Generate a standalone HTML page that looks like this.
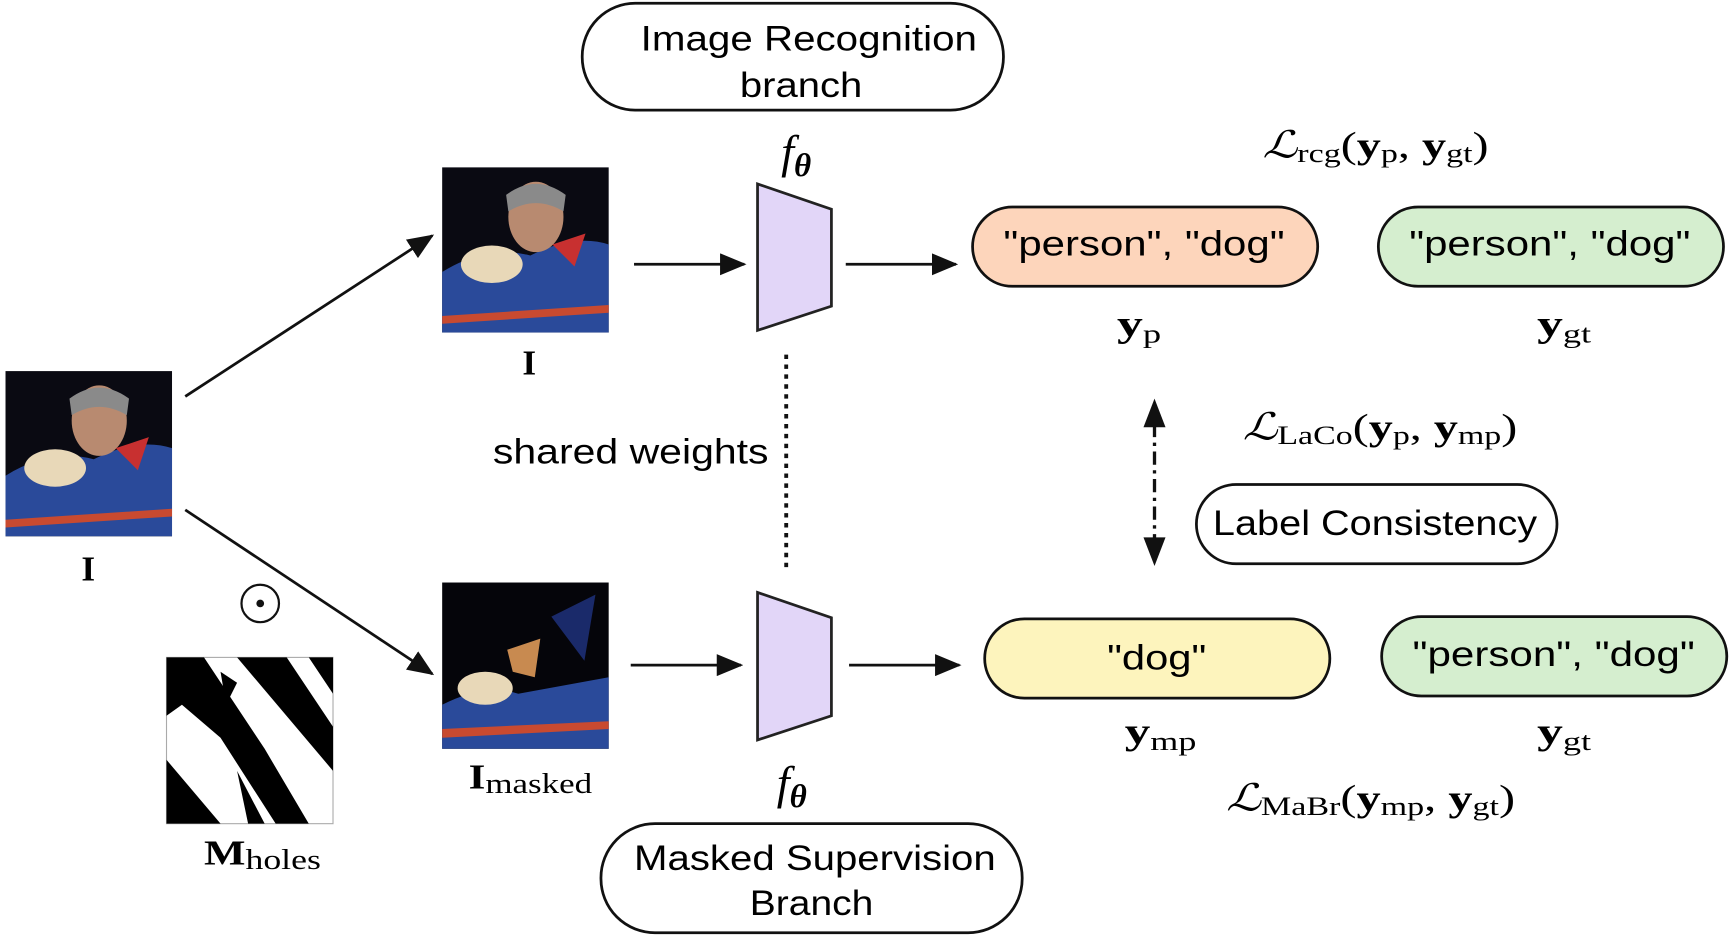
<!DOCTYPE html>
<html><head><meta charset="utf-8"><style>
html,body{margin:0;padding:0;background:#fff;}
svg{display:block;}
.s{font-family:"Liberation Sans",sans-serif;}
.m{font-family:"Liberation Serif",serif;}
</style></head><body>
<svg width="1729" height="936" viewBox="0 0 1568 850" preserveAspectRatio="none" xmlns="http://www.w3.org/2000/svg">
<defs>
<marker id="ah3" viewBox="0 0 24 20" refX="22" refY="10" markerWidth="24" markerHeight="20" orient="auto" markerUnits="userSpaceOnUse"><path d="M0,0 L24,10 L0,20 z" fill="#111"/></marker>
<g id="photo">
<rect x="0" y="0" width="151" height="150" fill="#0a0a12"/>
<path d="M0,95 Q40,70 80,80 Q120,60 151,70 L151,150 L0,150 z" fill="#2a4a9a"/>
<ellipse cx="85" cy="45" rx="25" ry="32" fill="#b88a70"/>
<path d="M58,25 Q85,5 112,25 L110,40 Q85,25 60,40 z" fill="#8a8a8a"/>
<ellipse cx="45" cy="88" rx="28" ry="17" fill="#e8d8b8"/>
<path d="M0,135 L151,125 L151,132 L0,142 z" fill="#c84a30"/>
<path d="M100,70 L130,60 L120,90 z" fill="#c83030"/>
</g>
</defs>

<rect x="528" y="3" width="382" height="97" rx="48" fill="#fff" stroke="#111" stroke-width="2.5"/>
<text x="581" y="46" class="s" font-size="32" textLength="305" lengthAdjust="spacingAndGlyphs">Image Recognition</text>
<text x="671" y="88" class="s" font-size="32" textLength="111" lengthAdjust="spacingAndGlyphs">branch</text>

<rect x="545" y="748" width="382" height="99" rx="49" fill="#fff" stroke="#111" stroke-width="2.5"/>
<text x="575" y="790" class="s" font-size="32" textLength="328" lengthAdjust="spacingAndGlyphs">Masked Supervision</text>
<text x="680" y="831" class="s" font-size="32" textLength="112" lengthAdjust="spacingAndGlyphs">Branch</text>

<text x="722" y="152" class="m" font-size="42" font-style="italic" text-anchor="middle">f<tspan font-size="30" dy="8" font-weight="bold">θ</tspan></text>
<text x="718" y="725" class="m" font-size="42" font-style="italic" text-anchor="middle">f<tspan font-size="30" dy="8" font-weight="bold">θ</tspan></text>

<polygon points="687,167 754,190 754,278 687,300" fill="#e2d6f8" stroke="#222" stroke-width="2.5"/>
<polygon points="687,538 754,561 754,650 687,672" fill="#e2d6f8" stroke="#222" stroke-width="2.5"/>

<use href="#photo" x="5" y="337"/>
<use href="#photo" x="401" y="152"/>
<g>
<rect x="401" y="529" width="151" height="151" fill="#05050a"/>
<path d="M401,640 Q440,620 470,630 L552,615 L552,680 L401,680 z" fill="#2a4a9a"/>
<ellipse cx="440" cy="625" rx="25" ry="15" fill="#e8d8b8"/>
<path d="M401,662 L552,655 L552,662 L401,670 z" fill="#c84a30"/>
<path d="M460,590 L490,580 L485,615 L465,610 z" fill="#c88a50"/>
<path d="M500,560 L540,540 L530,600 z" fill="#1a2a6a"/>
</g>
<g>
<rect x="151" y="597" width="151" height="151" fill="#fff" stroke="#aaa" stroke-width="1"/>
<path d="M151,597 L185,597 L240,680 L280,748 L250,748 L200,670 L165,640 L151,650 z" fill="#000"/>
<path d="M215,597 L260,597 L302,660 L302,700 z" fill="#000"/>
<path d="M151,690 L200,748 L151,748 z" fill="#000"/>
<path d="M215,700 L240,748 L225,748 z" fill="#000"/>
<path d="M280,597 L302,597 L302,630 z" fill="#000"/>
<path d="M200,610 L215,620 L205,640 z" fill="#000"/>
</g>

<text x="480" y="340" class="m" font-size="32" font-weight="bold" text-anchor="middle">I</text>
<text x="80" y="527" class="m" font-size="32" font-weight="bold" text-anchor="middle">I</text>
<circle cx="236" cy="548" r="17" fill="none" stroke="#111" stroke-width="2"/>
<circle cx="236" cy="548" r="3.5" fill="#111"/>
<text x="185" y="785" class="m" font-size="32" font-weight="bold" textLength="106" lengthAdjust="spacingAndGlyphs">M<tspan font-size="26" font-weight="normal" dy="4">holes</tspan></text>
<text x="425" y="716" class="m" font-size="32" font-weight="bold" textLength="112" lengthAdjust="spacingAndGlyphs">I<tspan font-size="26" font-weight="normal" dy="4">masked</tspan></text>

<g stroke="#111" stroke-width="2.5" fill="none">
<line x1="168" y1="360" x2="392" y2="214" marker-end="url(#ah3)"/>
<line x1="168" y1="463" x2="392" y2="612" marker-end="url(#ah3)"/>
<line x1="575" y1="240" x2="675" y2="240" marker-end="url(#ah3)"/>
<line x1="767" y1="240" x2="867" y2="240" marker-end="url(#ah3)"/>
<line x1="572" y1="604" x2="672" y2="604" marker-end="url(#ah3)"/>
<line x1="770" y1="604" x2="870" y2="604" marker-end="url(#ah3)"/>
<line x1="713" y1="322" x2="713" y2="520" stroke-dasharray="4,5" stroke-width="3.5"/>
<line x1="1047" y1="385" x2="1047" y2="492" stroke-dasharray="12,5,3,5" stroke-width="3"/>
</g>
<path d="M1047,362 L1057,388 L1037,388 z" fill="#111"/>
<path d="M1047,514 L1057,488 L1037,488 z" fill="#111"/>

<text x="447" y="421" class="s" font-size="32" textLength="250" lengthAdjust="spacingAndGlyphs">shared weights</text>

<rect x="882" y="188" width="313" height="72" rx="36" fill="#fdd5bb" stroke="#111" stroke-width="2.5"/>
<text x="910" y="232" class="s" font-size="32" textLength="255" lengthAdjust="spacingAndGlyphs">"person", "dog"</text>
<rect x="1250" y="188" width="313" height="72" rx="36" fill="#d5eecf" stroke="#111" stroke-width="2.5"/>
<text x="1278" y="232" class="s" font-size="32" textLength="255" lengthAdjust="spacingAndGlyphs">"person", "dog"</text>
<rect x="893" y="562" width="313" height="72" rx="36" fill="#fdf4bd" stroke="#111" stroke-width="2.5"/>
<text x="1004" y="608" class="s" font-size="32" textLength="90" lengthAdjust="spacingAndGlyphs">"dog"</text>
<rect x="1253" y="560" width="313" height="72" rx="36" fill="#d5eecf" stroke="#111" stroke-width="2.5"/>
<text x="1281" y="605" class="s" font-size="32" textLength="256" lengthAdjust="spacingAndGlyphs">"person", "dog"</text>
<rect x="1085" y="440" width="327" height="72" rx="36" fill="#fff" stroke="#111" stroke-width="2.5"/>
<text x="1100" y="486" class="s" font-size="32" textLength="294" lengthAdjust="spacingAndGlyphs">Label Consistency</text>

<g class="m" font-size="34">
<text x="1145" y="143" textLength="205" lengthAdjust="spacingAndGlyphs"><tspan font-style="italic">ℒ</tspan><tspan font-size="24" dy="4">rcg</tspan><tspan dy="-4">(</tspan><tspan font-weight="bold">y</tspan><tspan font-size="24" dy="4">p</tspan><tspan dy="-4">, </tspan><tspan font-weight="bold">y</tspan><tspan font-size="24" dy="4">gt</tspan><tspan dy="-4">)</tspan></text>
<text x="1127" y="399" textLength="249" lengthAdjust="spacingAndGlyphs"><tspan font-style="italic">ℒ</tspan><tspan font-size="24" dy="4">LaCo</tspan><tspan dy="-4">(</tspan><tspan font-weight="bold">y</tspan><tspan font-size="24" dy="4">p</tspan><tspan dy="-4">, </tspan><tspan font-weight="bold">y</tspan><tspan font-size="24" dy="4">mp</tspan><tspan dy="-4">)</tspan></text>
<text x="1112" y="736" textLength="262" lengthAdjust="spacingAndGlyphs"><tspan font-style="italic">ℒ</tspan><tspan font-size="24" dy="4">MaBr</tspan><tspan dy="-4">(</tspan><tspan font-weight="bold">y</tspan><tspan font-size="24" dy="4">mp</tspan><tspan dy="-4">, </tspan><tspan font-weight="bold">y</tspan><tspan font-size="24" dy="4">gt</tspan><tspan dy="-4">)</tspan></text>
<text x="1013" y="305" font-weight="bold" textLength="40" lengthAdjust="spacingAndGlyphs">y<tspan font-size="24" font-weight="normal" dy="6">p</tspan></text>
<text x="1394" y="305" font-weight="bold" textLength="49" lengthAdjust="spacingAndGlyphs">y<tspan font-size="24" font-weight="normal" dy="6">gt</tspan></text>
<text x="1020" y="675" font-weight="bold" textLength="65" lengthAdjust="spacingAndGlyphs">y<tspan font-size="24" font-weight="normal" dy="6">mp</tspan></text>
<text x="1394" y="675" font-weight="bold" textLength="49" lengthAdjust="spacingAndGlyphs">y<tspan font-size="24" font-weight="normal" dy="6">gt</tspan></text>
</g>
</svg>
</body></html>
